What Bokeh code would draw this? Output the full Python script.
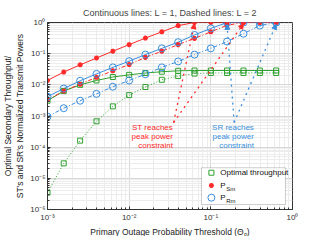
from bokeh.plotting import figure
from bokeh.models import (Range1d, FixedTicker, CustomJSTickFormatter, Arrow, NormalHead,
                          BoxAnnotation, Title)
from bokeh.core.properties import value
from bokeh.embed import file_html
from bokeh.resources import INLINE

# ---- data ----
theta = [0.001, 0.00158, 0.00251, 0.00398, 0.00631, 0.01, 0.0158, 0.0251, 0.0398,
         0.0631, 0.1, 0.158, 0.251, 0.398, 0.631]
psm_l1 = [0.0138, 0.0257, 0.0437, 0.0724, 0.120, 0.195, 0.316, 0.501, 0.794,
          1, 1, 1, 1, 1, 1]
prm_l1 = [0.00417, 0.00759, 0.0135, 0.0224, 0.0363, 0.0575, 0.0933, 0.148, 0.234,
          0.398, 0.646, 1, 1, 1, 1]
thr_l1 = [0.00309, 0.00631, 0.0100, 0.0138, 0.0178, 0.0209, 0.0240, 0.0263, 0.0282,
          0.0288, 0.0288, 0.0288, 0.0288, 0.0288, 0.0288]
psm_l2 = [0.00331, 0.00631, 0.0105, 0.0174, 0.0282, 0.0447, 0.0759, 0.120, 0.195,
          0.309, 0.501, 0.813, 1, 1, 1]
prm_l2 = [0.000955, 0.00178, 0.00309, 0.00513, 0.00871, 0.0138, 0.0219, 0.0363, 0.0562,
          0.0933, 0.148, 0.245, 0.437, 0.794, 1]
thr_l2 = [3.47e-6, 3.02e-5, 1.62e-4, 6.76e-4, 0.00204, 0.00468, 0.00851, 0.0145, 0.0191,
          0.0229, 0.0240, 0.0240, 0.0240, 0.0240, 0.0240]

x_ticks = [1e-3, 1e-2, 1e-1, 1]
y_ticks = [1e-6, 1e-5, 1e-4, 1e-3, 1e-2, 1e-1, 1]

title_text = "Continuous lines: L = 1, Dashed lines: L = 2"
x_label = "Primary Outage Probability Threshold (\u0398\u209a)"
y_label = "Optimal Secondary Throughput/\nST's and SR's Normalized Transmit Powers"
st_note = ["ST reaches", "peak power", "constraint"]
sr_note = ["SR reaches", "peak power", "constraint"]
legend_labels = ["Optimal throughput", "P", "P"]
legend_subs = ["Sm", "Rm"]

RED = "#ff2a2a"
BLUE = "#3a8fdc"
GREEN = "#30a030"
FONT = "Liberation Sans"

p = figure(width=307, height=236, x_axis_type="log", y_axis_type="log",
           x_range=Range1d(1e-3, 1), y_range=Range1d(1e-6, 1),
           title=title_text,
           output_backend="svg", toolbar_location=None,
           min_border_left=4, min_border_right=15, min_border_top=2, min_border_bottom=2)

p.title.align = "center"
p.title.text_font = FONT
p.title.text_font_size = "9px"
p.title.text_font_style = "normal"

def minors(ticks):
    out = []
    for t in ticks[:-1]:
        for m in range(2, 10):
            out.append(t * m)
    return out

fmt = CustomJSTickFormatter(code="""
const e = Math.round(Math.log10(tick));
const sup = {'-':'\u207b','0':'\u2070','1':'\u00b9','2':'\u00b2','3':'\u00b3','4':'\u2074','5':'\u2075','6':'\u2076','7':'\u2077','8':'\u2078','9':'\u2079'};
return '10' + String(e).split('').map(c => sup[c]).join('');
""")

for ax, ticks in ((p.xaxis[0], x_ticks), (p.yaxis[0], y_ticks)):
    ax.ticker = FixedTicker(ticks=ticks, minor_ticks=minors(ticks))
    ax.formatter = fmt
    ax.major_label_text_font = FONT
    ax.major_label_text_font_size = "8px"
    ax.major_label_text_color = "#333333"
    ax.axis_label_text_font = FONT
    ax.axis_label_text_font_size = "8.5px"
    ax.axis_label_text_font_style = "normal"
    ax.axis_label_text_color = "#222222"
    ax.major_tick_in = 3
    ax.major_tick_out = 0
    ax.minor_tick_in = 2
    ax.minor_tick_out = 0
    ax.axis_line_color = "#333333"
    ax.major_tick_line_color = "#333333"
    ax.minor_tick_line_color = "#333333"

p.yaxis.major_label_standoff = 2
p.yaxis.axis_label_standoff = 2
p.xaxis.major_label_standoff = 3
p.xaxis.major_label_text_line_height = 1.0

p.yaxis.axis_label = y_label
# x-axis label as a centred text panel directly below the axis
p.add_layout(Title(text=x_label, align="center", text_font=FONT, text_font_size="8.5px",
                   text_font_style="normal", text_color="#222222", standoff=0, offset=0),
             "below")

p.grid.grid_line_color = "#d8d8d8"
p.grid.minor_grid_line_color = "#ececec"
p.outline_line_color = "#333333"
p.outline_line_alpha = 1

# L = 1 (continuous)
p.line(theta, thr_l1, color=GREEN, line_width=1)
p.line(theta, psm_l1, color=RED, line_width=1)
p.line(theta, prm_l1, color=BLUE, line_width=1)
# L = 2 (dashed)
p.line(theta, thr_l2, color=GREEN, line_width=1, line_dash="1 2")
p.line(theta, psm_l2, color=RED, line_width=1, line_dash="4 2 1 2")
p.line(theta, prm_l2, color=BLUE, line_width=1, line_dash="4 2 1 2")

for ys in (thr_l1, thr_l2):
    p.scatter(theta, ys, marker="square", size=5, line_color=GREEN, fill_color=None, line_width=1)
for ys in (psm_l1, psm_l2):
    p.scatter(theta, ys, marker="asterisk", size=5, line_color=RED, line_width=1.6)
for ys in (prm_l1, prm_l2):
    p.scatter(theta, ys, marker="circle", size=7, line_color=BLUE, fill_color=None, line_width=1)

# arrows
st_origin = (10 ** -1.456, 10 ** -3.21)
sr_origin = (10 ** -0.715, 10 ** -3.21)
st_tips = [(theta[9], 10 ** -0.04), (theta[12], 10 ** -0.04)]
sr_tips = [(theta[11], 10 ** -0.06), (theta[14], 10 ** -0.06)]
for origin, tips, col in ((st_origin, st_tips, RED), (sr_origin, sr_tips, BLUE)):
    for tx, ty in tips:
        p.add_layout(Arrow(x_start=origin[0], y_start=origin[1], x_end=tx, y_end=ty,
                           line_color=col, line_width=1.3, line_dash="dotted",
                           end=NormalHead(size=5, fill_color=col, line_color=col)))

# notes
note_y = [10 ** -3.376, 10 ** -3.665, 10 ** -3.944]
p.text(x=[10 ** -1.464] * 3, y=note_y, text=st_note, text_align="right",
       text_baseline="middle", text_color=RED, text_font=value(FONT), text_font_size="8px")
p.text(x=[10 ** -0.473] * 3, y=note_y, text=sr_note, text_align="right",
       text_baseline="middle", text_color=BLUE, text_font=value(FONT), text_font_size="8px")

# legend (manual)
p.add_layout(BoxAnnotation(left=10 ** -1.114, right=10 ** -0.086, top=10 ** -4.66,
                           bottom=10 ** -5.84, fill_color="white", fill_alpha=1,
                           line_color="#333333", line_width=0.8))
leg_y = [10 ** -4.82, 10 ** -5.23, 10 ** -5.62]
mx = 10 ** -0.993
p.scatter([mx], [leg_y[0]], marker="square", size=5, line_color=GREEN, fill_color=None, level="overlay")
p.scatter([mx], [leg_y[1]], marker="asterisk", size=5, line_color=RED, line_width=1.6, level="overlay")
p.scatter([mx], [leg_y[2]], marker="circle", size=7, line_color=BLUE, fill_color=None, level="overlay")
p.text(x=[10 ** -0.884] * 3, y=leg_y, text=legend_labels, text_baseline="middle",
       text_font=value(FONT), text_font_size="8px", text_color="#111111", level="overlay")
p.text(x=[10 ** -0.812] * 2, y=[v * 10 ** -0.12 for v in leg_y[1:]], text=legend_subs,
       text_baseline="middle", text_font=value(FONT), text_font_size="6px",
       text_color="#111111", level="overlay")

open("out.html", "w").write(file_html(p, INLINE))
